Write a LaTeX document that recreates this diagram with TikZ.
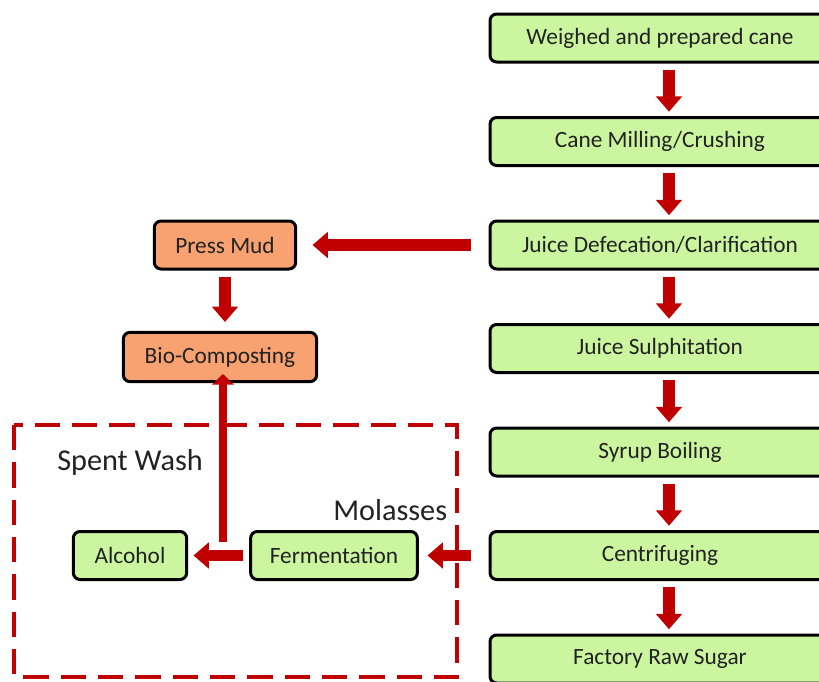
\documentclass[tikz,border=0pt]{standalone}
\usepackage{fontspec}
\setmainfont{Carlito}
\usetikzlibrary{arrows.meta,positioning}

\definecolor{stagegreen}{HTML}{CCF5A0}
\definecolor{wasteorange}{HTML}{F8A271}
\definecolor{arrowred}{HTML}{C00000}
\definecolor{textgrey}{HTML}{222222}

\tikzset{
	stage/.style={draw=black, line width=2.25pt, rounded corners=5pt, fill=stagegreen,
		text=textgrey, minimum height=36pt, inner sep=0pt, font=\fontsize{17.5}{20}\selectfont},
	waste/.style={stage, fill=wasteorange},
	flow/.style={draw=arrowred, line width=8.5pt, -{Triangle[width=19pt,length=11.5pt]}},
	washflow/.style={draw=arrowred, line width=6pt, -{Triangle[width=16pt,length=8pt]}},
	bigtext/.style={inner sep=0pt, text=textgrey, font=\fontsize{22.7}{26}\selectfont},
}

\begin{document}
\begin{tikzpicture}[x=0.75pt,y=-0.75pt,node distance=77.625pt]
\useasboundingbox (0,0) rectangle (819,682);

% distillery frame
\draw [arrowred, line width=3.5pt, dash pattern=on 19pt off 9pt] (14,425) rectangle (457,677);

% main line
\node(cane)	[stage, minimum width=255pt] at (660,38)	{Weighed and prepared cane};
\node(milling)	[stage, minimum width=255pt, below of=cane]	{Cane Milling/Crushing};
\node(defecation)	[stage, minimum width=255pt, below of=milling]	{Juice Defecation/Clarification};
\node(sulphitation)	[stage, minimum width=255pt, below of=defecation]	{Juice Sulphitation};
\node(boiling)	[stage, minimum width=255pt, below of=sulphitation]	{Syrup Boiling};
\node(centrif)	[stage, minimum width=255pt, below of=boiling]	{Centrifuging};
\node(rawsugar)	[stage, minimum width=255pt, below of=centrif]	{Factory Raw Sugar};

% by-products
\node(pressmud)	[waste, minimum width=106pt] at (225,245)	{Press Mud};
\node(biocomp)	[waste, minimum width=145pt, minimum height=37pt] at (220,357)	{Bio-Composting};
\node(ferment)	[stage, minimum width=125pt] at (334,555.5)	{Fermentation};
\node(alcohol)	[stage, minimum width=85pt] at (130,555.5)	{Alcohol};

\node(spentwash)	[bigtext, anchor=base west] at (57,470)	{Spent Wash};
\node(molasses)	[bigtext, anchor=base west] at (333,520)	{Molasses};

\foreach \a/\b in {cane/milling, milling/defecation, defecation/sulphitation,
	sulphitation/boiling, boiling/centrif, centrif/rawsugar} {
	\draw [flow] ([xshift=6.75pt,yshift=-4.5pt]\a.south) -- ([xshift=6.75pt,yshift=3.2pt]\b.north);
}

\draw [flow] ([xshift=-13.5pt]defecation.west) -- ([xshift=11.5pt]pressmud.east);
\coordinate(mudtop) at (225,332);
\draw [flow] ([yshift=-5pt]pressmud.south) -- ([yshift=7.5pt]mudtop);

\draw [flow] ([xshift=-13pt]centrif.west) -- ([xshift=6.5pt]ferment.east);
\draw [flow] ([xshift=-5pt]ferment.west) -- ([xshift=4pt]alcohol.east);

\coordinate(washfoot) at (223,542);
\coordinate(washtop) at (223,382);
\draw [washflow] (washfoot) -- ([yshift=6pt]washtop);

\end{tikzpicture}
\end{document}
